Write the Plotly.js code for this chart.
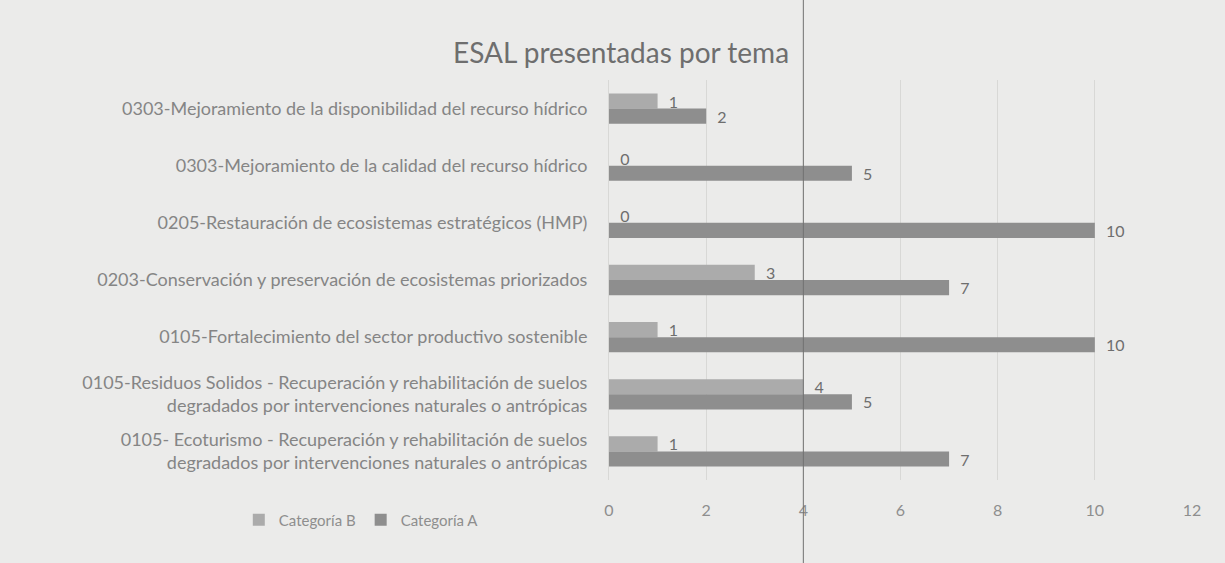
<!DOCTYPE html>
<html>
<head>
<meta charset="utf-8">
<script src="https://cdn.plot.ly/plotly-3.0.1.min.js"></script>
<style>
html,body{margin:0;padding:0;background:#ebebea;}
#chart{width:1225px;height:563px;}
</style>
</head>
<body>
<div id="chart"></div>
<script>
var categories = [
  "0303-Mejoramiento de la disponibilidad del recurso hídrico",
  "0303-Mejoramiento de la calidad del recurso hídrico",
  "0205-Restauración de ecosistemas estratégicos (HMP)",
  "0203-Conservación y preservación de ecosistemas priorizados",
  "0105-Fortalecimiento del sector productivo sostenible",
  "0105-Residuos Solidos - Recuperación y rehabilitación de suelos<br>degradados por intervenciones naturales o antrópicas",
  "0105- Ecoturismo - Recuperación y rehabilitación de suelos<br>degradados por intervenciones naturales o antrópicas"
];
var categoriaB = [1, 0, 0, 3, 1, 4, 1];
var categoriaA = [2, 5, 10, 7, 10, 5, 7];
var xTicks = [0, 2, 4, 6, 8, 10, 12];

var fontFam = "Lato, 'Open Sans', sans-serif";
var pad = '\u00a0\u00a0';
var traces = [
  {type:'bar', orientation:'h', name:'Categoría B', y:categories, x:categoriaB,
   marker:{color:'#ababab'}, text:categoriaB.map(function(v){return pad+v;}), textposition:'outside',
   constraintext:'none', cliponaxis:false, textfont:{color:'#6e6e6e', size:16, family:fontFam}},
  {type:'bar', orientation:'h', name:'Categoría A', y:categories, x:categoriaA,
   marker:{color:'#8e8e8e'}, text:categoriaA.map(function(v){return pad+v;}), textposition:'outside',
   constraintext:'none', cliponaxis:false, textfont:{color:'#6e6e6e', size:16, family:fontFam}}
];

var layout = {
  width:1225, height:563,
  paper_bgcolor:'#ebebea', plot_bgcolor:'#ebebea',
  font:{family:fontFam, color:'#808080', size:16},
  title:{text:'ESAL presentadas por tema', x:0.507, xanchor:'center', y:0.905, yanchor:'middle',
         font:{size:28, color:'#6e6e6e', family:fontFam}},
  margin:{l:609, r:33, t:80, b:83},
  barmode:'group', bargap:0.47, bargroupgap:0,
  xaxis:{range:[0,12], tickvals:xTicks, showgrid:true, gridcolor:'#d8d8d6', gridwidth:1,
         zeroline:false, showline:false, ticks:'outside', ticklen:16, tickcolor:'rgba(0,0,0,0)',
         tickfont:{size:16, color:'#8e8e8e'}},
  yaxis:{autorange:'reversed', type:'category', showgrid:false, showline:true, linecolor:'#d8d8d6',
         ticks:'outside', ticklen:17, tickcolor:'rgba(0,0,0,0)', tickfont:{size:18, color:'#858585'},
         automargin:false},
  legend:{orientation:'h', x:-0.635, y:-0.1, xanchor:'left', yanchor:'middle',
          font:{size:15, color:'#8e8e8e'}, bgcolor:'rgba(0,0,0,0)', traceorder:'normal',
          itemwidth:30},
  shapes:[{type:'line', xref:'x', yref:'paper', x0:4, x1:4, y0:-0.21, y1:1.2,
           line:{color:'#707070', width:1}}],
  showlegend:true
};
Plotly.newPlot('chart', traces, layout, {displayModeBar:false, staticPlot:true});
</script>
</body>
</html>
